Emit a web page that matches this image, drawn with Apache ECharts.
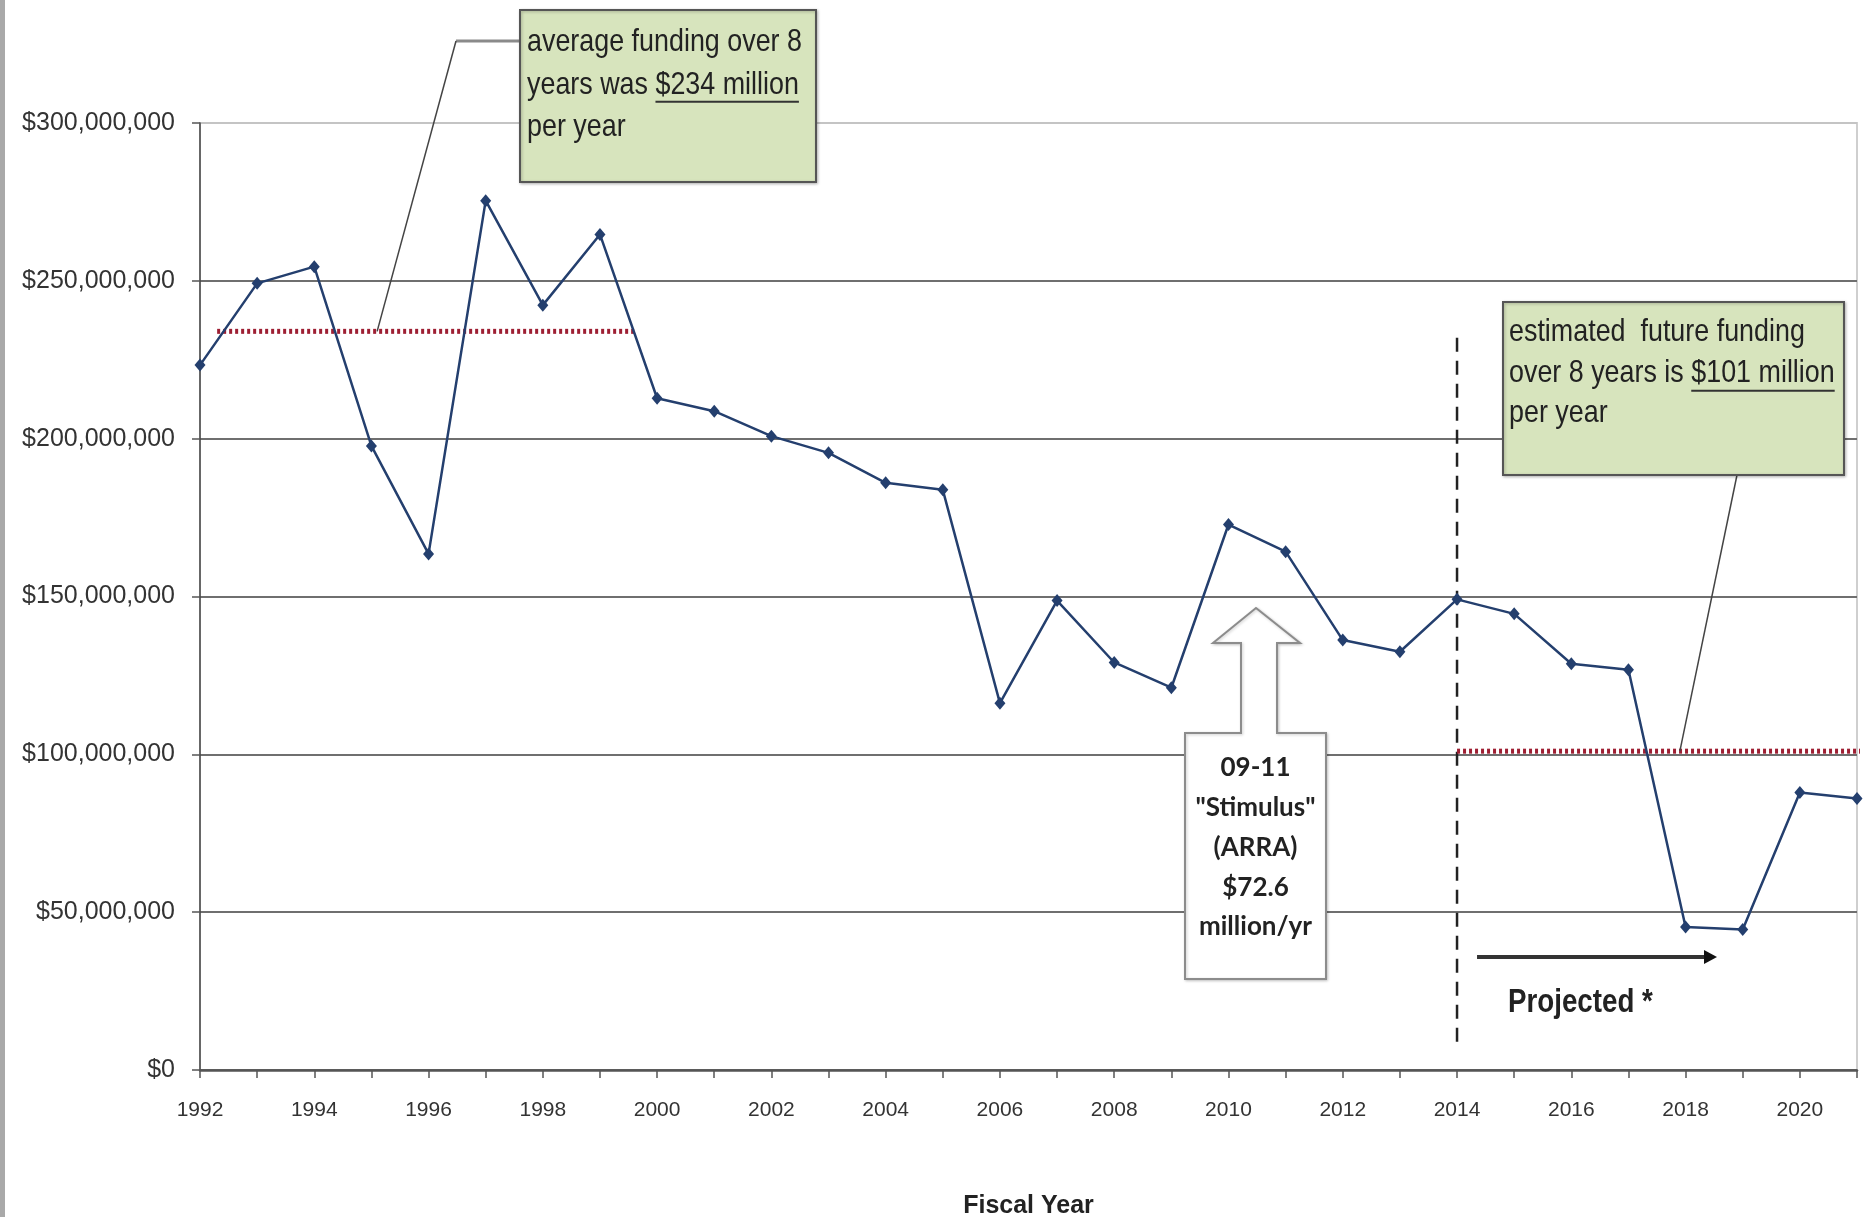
<!DOCTYPE html>
<html>
<head>
<meta charset="utf-8">
<script src="https://cdn.jsdelivr.net/npm/echarts@6.0.0/dist/echarts.min.js"></script>
<style>
  html, body { margin: 0; padding: 0; background: #ffffff; }
  #chart { width: 1868px; height: 1217px; }
</style>
</head>
<body>
<div id="chart"></div>
<script>
// Fiscal years on the horizontal axis
const years = [1992, 1993, 1994, 1995, 1996, 1997, 1998, 1999, 2000, 2001,
               2002, 2003, 2004, 2005, 2006, 2007, 2008, 2009, 2010, 2011,
               2012, 2013, 2014, 2015, 2016, 2017, 2018, 2019, 2020, 2021];

// Annual funding, millions of dollars (2014 onward projected)
const fundingMillions = [223.3, 249.2, 254.5, 197.7, 163.5, 275.4, 242.3, 264.7, 212.8, 208.7,
                         200.8, 195.5, 186.0, 183.8, 116.2, 148.7, 129.1, 121.1, 172.8, 164.2,
                         136.2, 132.5, 149.1, 144.5, 128.7, 126.8, 45.3, 44.5, 87.9, 86.0];

// Eight-year averages (millions) and the stretch of years each dotted line covers
const pastAverage = 234;
const pastAverageSpan = [1992.3, 1999.6];
const futureAverage = 101;
const futureAverageSpan = [2014, 2021.2];

// Start of the projection period
const projectionYear = 2014;
const projectionLineRange = [232, 7];

// Value axis ticks (millions)
const yMin = 0, yMax = 300, yStep = 50;

const SANS = '"Liberation Sans", Arial, sans-serif';
const BOX_FONT = 'normal 32px ' + SANS;
const NARROW_SCALE = 0.84;   // horizontal squeeze giving a condensed face

const chart = echarts.init(document.getElementById('chart'), null, { renderer: 'canvas' });

function money(v) {
  return '$' + Math.round(v * 1e6).toLocaleString('en-US');
}

const option = {
  backgroundColor: '#ffffff',
  animation: false,
  grid: {
    left: 200, right: 11, top: 123, bottom: 147,
    outerBoundsMode: 'none',
    containLabel: false,
    show: true, borderColor: '#cfcfcf', borderWidth: 2, backgroundColor: 'transparent'
  },
  xAxis: {
    type: 'value',
    min: years[0], max: years[years.length - 1], interval: 1,
    name: 'Fiscal Year',
    nameLocation: 'middle',
    nameGap: 124,
    nameTextStyle: { fontFamily: SANS, fontWeight: 'bold', fontSize: 25, color: '#222' },
    axisLine: { show: true, lineStyle: { color: '#555', width: 2.5 } },
    axisTick: { show: true, inside: false, length: 8, lineStyle: { color: '#555', width: 1.5 } },
    axisLabel: {
      margin: 30, fontFamily: SANS, fontSize: 21, color: '#333',
      formatter: v => (v % 2 === 0 ? String(v) : '')
    },
    splitLine: { show: false }
  },
  yAxis: {
    type: 'value',
    min: yMin, max: yMax, interval: yStep,
    axisLine: { show: true, lineStyle: { color: '#444', width: 1.5 } },
    axisTick: { show: true, inside: false, length: 8, lineStyle: { color: '#555', width: 1.5 } },
    axisLabel: { margin: 25, fontFamily: SANS, fontSize: 25, color: '#333', formatter: money },
    splitLine: {
      show: true,
      lineStyle: { width: 2, color: ['#6f6f6f', '#6f6f6f', '#6f6f6f', '#6f6f6f', '#6f6f6f', '#6f6f6f', '#c4c4c4'] }
    }
  },
  series: [
    {
      name: 'Funding',
      type: 'line',
      data: years.map((y, i) => [y, fundingMillions[i]]),
      symbol: 'diamond',
      symbolSize: [11, 13],
      lineStyle: { color: '#243f6e', width: 2.5 },
      itemStyle: { color: '#243f6e' },
      z: 5
    },
    {
      name: 'Average 1992-1999',
      type: 'line',
      data: [[pastAverageSpan[0], pastAverage], [pastAverageSpan[1], pastAverage]],
      symbol: 'none',
      lineStyle: { color: '#9e1f33', width: 5, type: [3, 3] },
      z: 4
    },
    {
      name: 'Average 2014-2021',
      type: 'line',
      clip: false,
      data: [[futureAverageSpan[0], futureAverage], [futureAverageSpan[1], futureAverage]],
      symbol: 'none',
      lineStyle: { color: '#9e1f33', width: 5, type: [3, 3] },
      z: 4
    },
    {
      name: 'Projection start',
      type: 'line',
      data: [[projectionYear, projectionLineRange[0]], [projectionYear, projectionLineRange[1]]],
      symbol: 'none',
      lineStyle: { color: '#222', width: 2.5, type: [14, 9] },
      z: 3
    }
  ]
};

chart.setOption(option);

// Text measurement for the underlined figures inside the callouts
const measureCtx = document.createElement('canvas').getContext('2d');
function textWidth(str, font) {
  measureCtx.font = font;
  return measureCtx.measureText(str).width * NARROW_SCALE;
}

const px = p => chart.convertToPixel({ gridIndex: 0 }, p);
const pastLeaderEnd = px([1995.1, pastAverage]);
const futureLeaderEnd = px([2017.9, futureAverage]);
const arrowY = px([2014, 35.8])[1];
const arrowStart = px([2014.35, 35.8])[0];
const arrowEnd = px([2018.55, 35.8])[0];

// Callout 1: 1992-1999 average
const box1 = { x: 520, y: 10, w: 296, h: 172, textX: 527, textY: 21, lh: 42.5 };
const u1Start = box1.textX + textWidth('years was ', BOX_FONT);
const u1End = u1Start + textWidth('$234 million', BOX_FONT);
const u1Y = box1.textY + box1.lh * 1.5 + 17;

// Callout 2: projected average
const box2 = { x: 1503, y: 302, w: 341, h: 173, textX: 1509, textY: 312, lh: 40.5 };
const u2Start = box2.textX + textWidth('over 8 years is ', BOX_FONT);
const u2End = u2Start + textWidth('$101 million', BOX_FONT);
const u2Y = box2.textY + box2.lh * 1.5 + 18;

// Up-arrow callout for the stimulus years
const stim = { left: 1185, right: 1326, top: 733, bottom: 979, shaftL: 1241, shaftR: 1277,
               headL: 1213, headR: 1300, headBase: 643, tipX: 1256, tipY: 608 };

chart.setOption({
  graphic: [
    // grey frame edge on the left
    { type: 'rect', shape: { x: 0, y: 0, width: 5, height: 1217 }, style: { fill: '#a9a9a9' }, z: 1 },

    // leader for callout 1
    { type: 'polyline', shape: { points: [[box1.x, 41], [456, 41]] },
      style: { stroke: '#8a8a8a', lineWidth: 3, fill: null }, z: 10 },
    { type: 'line', shape: { x1: 456, y1: 41, x2: pastLeaderEnd[0], y2: pastLeaderEnd[1] },
      style: { stroke: '#444', lineWidth: 1.5 }, z: 10 },
    { type: 'rect', shape: { x: box1.x, y: box1.y, width: box1.w, height: box1.h },
      style: { fill: '#d7e4bd', stroke: '#555', lineWidth: 2,
               shadowColor: 'rgba(0,0,0,0.25)', shadowBlur: 3, shadowOffsetX: 1, shadowOffsetY: 1 }, z: 11 },
    { type: 'text', x: box1.textX, y: box1.textY, scaleX: NARROW_SCALE, z: 12,
      style: { text: 'average funding over 8\nyears was $234 million\nper year', font: BOX_FONT,
               fill: '#222', lineHeight: box1.lh, align: 'left', verticalAlign: 'top' } },
    { type: 'line', shape: { x1: u1Start, y1: u1Y, x2: u1End, y2: u1Y },
      style: { stroke: '#333', lineWidth: 2 }, z: 12 },

    // leader for callout 2
    { type: 'line', shape: { x1: 1737, y1: box2.y + box2.h, x2: futureLeaderEnd[0], y2: futureLeaderEnd[1] },
      style: { stroke: '#444', lineWidth: 1.5 }, z: 10 },
    { type: 'rect', shape: { x: box2.x, y: box2.y, width: box2.w, height: box2.h },
      style: { fill: '#d7e4bd', stroke: '#555', lineWidth: 2,
               shadowColor: 'rgba(0,0,0,0.25)', shadowBlur: 3, shadowOffsetX: 1, shadowOffsetY: 1 }, z: 11 },
    { type: 'text', x: box2.textX, y: box2.textY, scaleX: NARROW_SCALE, z: 12,
      style: { text: 'estimated  future funding\nover 8 years is $101 million\nper year', font: BOX_FONT,
               fill: '#222', lineHeight: box2.lh, align: 'left', verticalAlign: 'top' } },
    { type: 'line', shape: { x1: u2Start, y1: u2Y, x2: u2End, y2: u2Y },
      style: { stroke: '#333', lineWidth: 2 }, z: 12 },

    // stimulus up-arrow callout
    { type: 'polygon', z: 11,
      shape: { points: [
        [stim.tipX, stim.tipY], [stim.headR, stim.headBase], [stim.shaftR, stim.headBase],
        [stim.shaftR, stim.top], [stim.right, stim.top], [stim.right, stim.bottom],
        [stim.left, stim.bottom], [stim.left, stim.top], [stim.shaftL, stim.top],
        [stim.shaftL, stim.headBase], [stim.headL, stim.headBase]
      ] },
      style: { fill: '#ffffff', stroke: '#8c8c8c', lineWidth: 2,
               shadowColor: 'rgba(0,0,0,0.2)', shadowBlur: 3, shadowOffsetX: 1, shadowOffsetY: 1 } },
    { type: 'text', x: (stim.left + stim.right) / 2, y: 748, z: 12,
      style: { text: '09-11\n"Stimulus"\n(ARRA)\n$72.6\nmillion/yr',
               font: 'bold 26px Lato, "Open Sans", sans-serif', fill: '#222',
               lineHeight: 39.8, align: 'center', verticalAlign: 'top' } },

    // projection arrow and label
    { type: 'line', shape: { x1: arrowStart, y1: arrowY, x2: arrowEnd - 10, y2: arrowY },
      style: { stroke: '#333', lineWidth: 4 }, z: 10 },
    { type: 'polygon', z: 10,
      shape: { points: [[arrowEnd, arrowY], [arrowEnd - 13, arrowY - 7], [arrowEnd - 13, arrowY + 7]] },
      style: { fill: '#111' } },
    { type: 'text', x: 1508, y: 1003, scaleX: NARROW_SCALE, z: 10,
      style: { text: 'Projected *', font: 'bold 33px ' + SANS, fill: '#222',
               align: 'left', verticalAlign: 'middle' } }
  ]
});
</script>
</body>
</html>
